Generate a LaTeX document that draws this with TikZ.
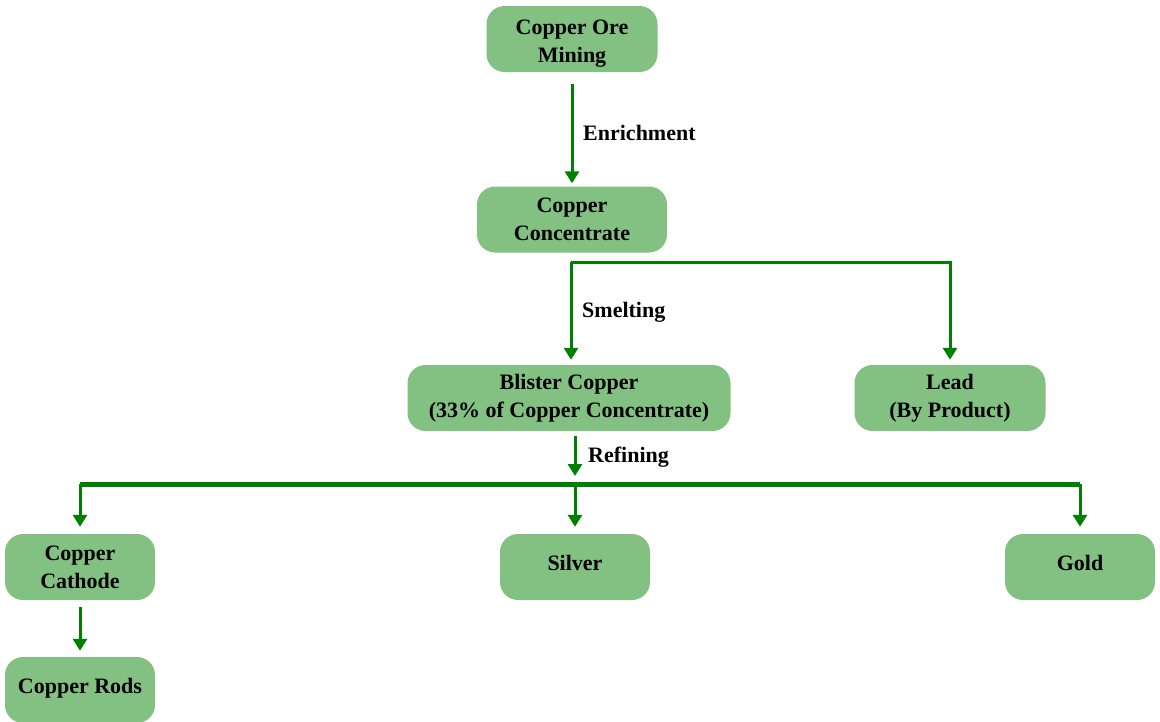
\documentclass[tikz,border=0pt]{standalone}
\usepackage{fontspec}
\setmainfont{Liberation Serif}
\usetikzlibrary{positioning,arrows.meta}

\definecolor{boxgreen}{RGB}{130,193,130}
\definecolor{linegreen}{RGB}{0,128,0}

\tikzset{
  stage/.style={rectangle, rounded corners=18pt, fill=boxgreen, minimum height=66pt,
    minimum width=150pt, align=center, inner sep=0pt,
    font=\fontsize{22}{28}\selectfont\bfseries},
  flow/.style={draw=linegreen, line width=3pt,
    -{Triangle[width=14pt,length=12pt]}},
  busline/.style={draw=linegreen, line width=5pt},
  steplabel/.style={anchor=west, inner sep=0pt,
    font=\fontsize{22}{28}\selectfont\bfseries}
}
% single-line text sits a little above the middle of its box
\newcommand{\upper}[1]{\raisebox{0pt}[\height][8pt]{#1}}

\begin{document}
\begin{tikzpicture}[x=1pt,y=-1pt]
  \useasboundingbox (0,0) rectangle (1160,721);

  % stages
  \node[stage, minimum width=171pt] (ore) at (572,39)
    {\raisebox{0pt}[\dimexpr\height+8pt][\depth]{\begin{tabular}{@{}c@{}}Copper Ore\\Mining\end{tabular}}};
  \node[stage, minimum width=190pt] (conc) at (572,219.5) {Copper\\Concentrate};
  \node[stage, minimum width=323pt] (blister) at (569,398) {Blister Copper\\(33\% of Copper Concentrate)};
  \node[stage, minimum width=191pt] (lead) at (950,398) {Lead\\(By Product)};
  \node[stage] (cathode) at (80,567) {Copper\\Cathode};
  \node[stage] (silver) at (575,567) {\upper{Silver}};
  \node[stage] (gold) at (1080,567) {\upper{Gold}};
  \node[stage] (rods) at (80,690) {\raisebox{0pt}[\height][\dimexpr\depth+4pt]{Copper Rods}};

  % junction points
  \coordinate (split) at (571,262);
  \coordinate (bus) at (575,484);

  % connectors
  \draw[flow, shorten <=12pt, shorten >=3pt] (ore) -- (conc);
  \draw[flow, shorten >=5pt] (split) -- (split |- blister.north);
  \draw[flow, shorten >=5pt] (split) -| (lead.north);
  \draw[flow, shorten >=8pt] (bus |- blister.south) ++(0,5) -- (bus);
  \draw[busline] (cathode.north |- bus) -- (gold.north |- bus);
  \foreach \n in {cathode, silver, gold}
    \draw[flow, shorten >=7pt] (\n.north |- bus) -- (\n.north);
  \draw[flow, shorten <=7pt, shorten >=6pt] (cathode) -- (rods);

  % step labels
  \node[steplabel] (enrich) at (583,133) {Enrichment};
  \node[steplabel] (smelt) at (582,312) {Smelting};
  \node[steplabel] (refine) at (588,457) {Refining};
\end{tikzpicture}
\end{document}
